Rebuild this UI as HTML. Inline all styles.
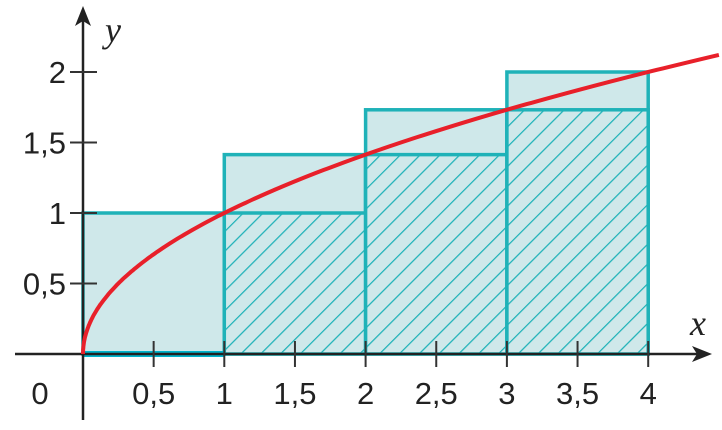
<!DOCTYPE html>
<html><head><meta charset="utf-8"><style>
html,body{margin:0;padding:0;background:#fff;}
svg{display:block;font-family:"Liberation Sans",sans-serif;}
</style></head><body>
<svg id="c" width="722" height="430" viewBox="0 0 722 430">
<defs>
<pattern id="hatch" patternUnits="userSpaceOnUse" width="14" height="14" patternTransform="rotate(45)">
<rect width="14" height="14" fill="#cfe8ea"/>
<line x1="0" y1="0" x2="0" y2="14" stroke="#1fb2b8" stroke-width="2.5"/>
</pattern>
</defs>
<g id="g"></g>
</svg>
<script>
const rectStarts=[0,1,2,3];
const upperHeights=[1,1.414,1.732,2];
const lowerHeights=[0,1,1.414,1.732];
const xTicks=[0.5,1,1.5,2,2.5,3,3.5,4];
const xTickLabels=["0,5","1","1,5","2","2,5","3","3,5","4"];
const yTicks=[0.5,1,1.5,2];
const yTickLabels=["0,5","1","1,5","2"];
const X=v=>83+v*141.3, Y=v=>354-v*141;
const NS="http://www.w3.org/2000/svg", g=document.getElementById('g');
function mk(t,a,txt){const e=document.createElementNS(NS,t);for(const k in a)e.setAttribute(k,a[k]);if(txt!==undefined)e.textContent=txt;g.appendChild(e);return e;}
const teal="#1fb2b8";
rectStarts.forEach((s,i)=>{
 const r=mk('rect',{x:X(s),y:Y(upperHeights[i]),width:X(s+1)-X(s),height:Y(0)-Y(upperHeights[i]),fill:'#cfe8ea',stroke:teal,'stroke-width':3.5});
 
 
});
rectStarts.forEach((s,i)=>{
 if(lowerHeights[i]<=0)return;
 const r=mk('rect',{x:X(s),y:Y(lowerHeights[i]),width:X(s+1)-X(s),height:Y(0)-Y(lowerHeights[i]),fill:'url(#hatch)',stroke:teal,'stroke-width':3.5});
 
 
});
const bl=mk('line',{x1:X(0),y1:Y(0),x2:X(1),y2:Y(0),stroke:'#00b4cc','stroke-width':6});


const xa=mk('line',{x1:15,y1:354,x2:700,y2:354,stroke:'#222','stroke-width':2.5});


const xar=mk('path',{d:'M712 354 L692 346 L697 354 L692 362 Z',fill:'#222'});


const ya=mk('line',{x1:83,y1:420,x2:83,y2:20,stroke:'#222','stroke-width':2.5});


const yar=mk('path',{d:'M83 6 L75 26 L83 21 L91 26 Z',fill:'#222'});


xTicks.forEach((v,i)=>{
 const t=mk('line',{x1:X(v),y1:341,x2:X(v),y2:367,stroke:'#333','stroke-width':2});
 
 
 const l=mk('text',{x:X(v),y:404,'font-size':31,'text-anchor':'middle',fill:'#222'},xTickLabels[i]);
 
 
});
yTicks.forEach((v,i)=>{
 const t=mk('line',{x1:70,y1:Y(v),x2:97,y2:Y(v),stroke:'#333','stroke-width':2});
 
 
 const l=mk('text',{x:66,y:Y(v)+11,'font-size':31,'text-anchor':'end',fill:'#222'},yTickLabels[i]);
 
 
});
const z=mk('text',{x:40,y:404,'font-size':31,'text-anchor':'middle',fill:'#222'},'0');


const xl=mk('text',{x:690,y:335,'font-size':36,'font-style':'italic','font-family':'Liberation Serif, serif',fill:'#222'},'x');


const yl=mk('text',{x:105,y:42,'font-size':36,'font-style':'italic','font-family':'Liberation Serif, serif',fill:'#222'},'y');


let d='';
for(let i=0;i<=200;i++){const x=4.5*Math.pow(i/200,2);d+=(i?'L':'M')+X(x).toFixed(1)+' '+Y(Math.sqrt(x)).toFixed(1);}
const c=mk('path',{d:d,fill:'none',stroke:'#e8202a','stroke-width':4});


</script>
</body></html>
